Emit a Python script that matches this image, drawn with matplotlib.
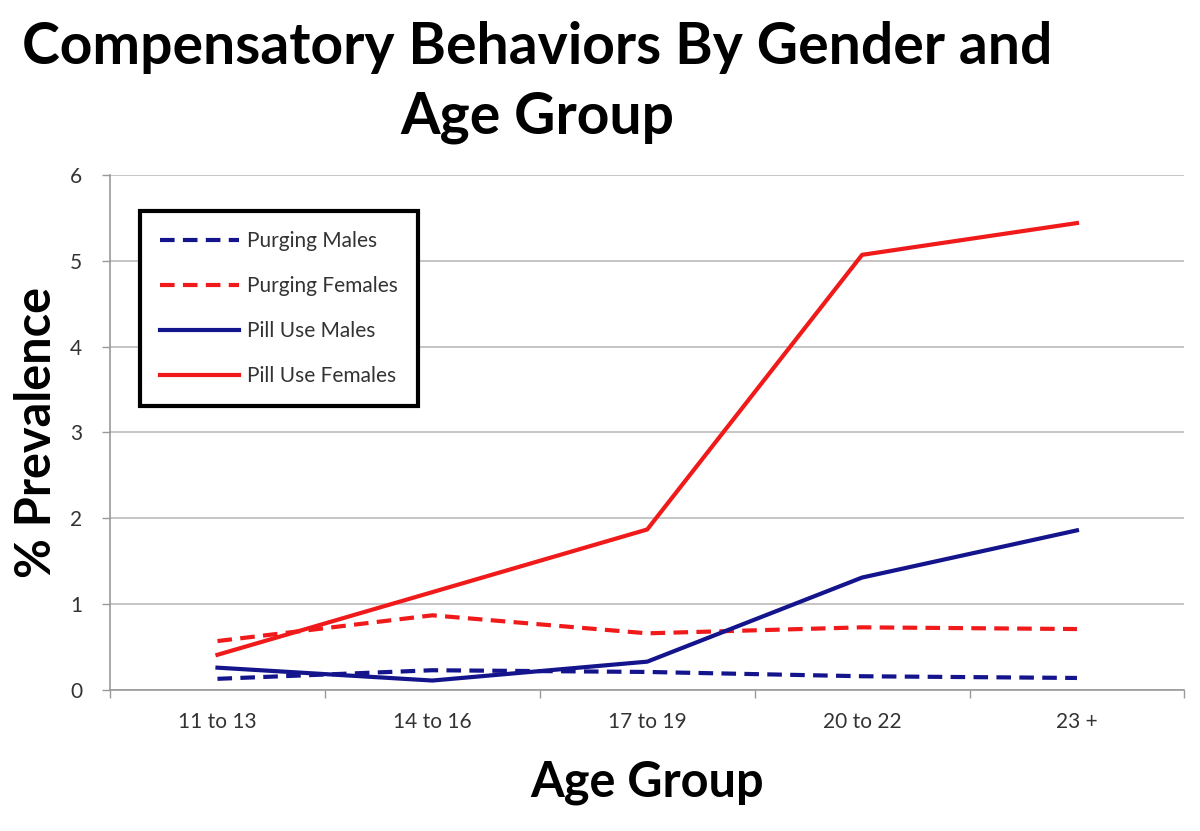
import numpy as np
import matplotlib.pyplot as plt

# age groups on the x axis
groups = ['11 to 13', '14 to 16', '17 to 19', '20 to 22', '23 +']

# % prevalence
purging_males = [0.13, 0.23, 0.21, 0.16, 0.14]
purging_females = [0.57, 0.87, 0.66, 0.73, 0.71]
pill_males = [0.26, 0.11, 0.33, 1.31, 1.86]
pill_females = [0.41, 1.14, 1.87, 5.07, 5.44]

blue = '#14148c'
red = '#f01a1a'

plt.rcParams['font.family'] = ['Lato', 'DejaVu Sans']

fig = plt.figure(figsize=(12, 8.31), dpi=100)
ax = fig.add_axes([0.0917, 0.1697, 0.8953, 0.6197])

x = np.arange(len(groups))
ax.plot(x, purging_males, color=blue, lw=3, ls=(0, (3.5, 2)), label='Purging Males')
ax.plot(x, purging_females, color=red, lw=3, ls=(0, (3.5, 2)), label='Purging Females')
ax.plot(x, pill_males, color=blue, lw=3, label='Pill Use Males')
ax.plot(x, pill_females, color=red, lw=3, label='Pill Use Females')

ax.set_xlim(-0.5, len(groups) - 0.5)
ax.set_ylim(0, 6)
ax.set_yticks(range(7))
ax.set_xticks(x)
ax.set_xticklabels(groups)
ax.set_xticks(np.arange(-0.5, len(groups)), minor=True)
ax.tick_params(axis='x', which='major', length=0, pad=16, labelsize=15, labelcolor='#333333')
ax.tick_params(axis='x', which='minor', length=6, color='#999999', width=1)
ax.tick_params(axis='y', length=6, color='#999999', width=1, pad=14, labelsize=15, labelcolor='#333333')

ax.grid(axis='y', color='#bbbbbb', lw=1.2)
ax.set_axisbelow(True)
for s in ['top', 'right']:
    ax.spines[s].set_visible(False)
for s in ['left', 'bottom']:
    ax.spines[s].set_color('#999999')
    ax.spines[s].set_linewidth(1.2)

ax.set_xlabel('Age Group', fontsize=35, fontweight='bold', labelpad=20)
ax.set_ylabel('% Prevalence', fontsize=35, fontweight='bold', labelpad=8)

fig.text(0.448, 0.975, 'Compensatory Behaviors By Gender and\nAge Group', ha='center', va='top',
         fontsize=41, fontweight='bold', linespacing=1.4)

leg = ax.legend(loc='upper left', bbox_to_anchor=(0.018, 0.95), fontsize=15, frameon=True,
                fancybox=False, edgecolor='black', framealpha=1, handlelength=3.8,
                labelspacing=1.2, borderpad=0.95, handletextpad=0.4)
leg.get_frame().set_linewidth(3)
for t in leg.get_texts():
    t.set_color('#333333')

fig.savefig('out.png', dpi=100)
